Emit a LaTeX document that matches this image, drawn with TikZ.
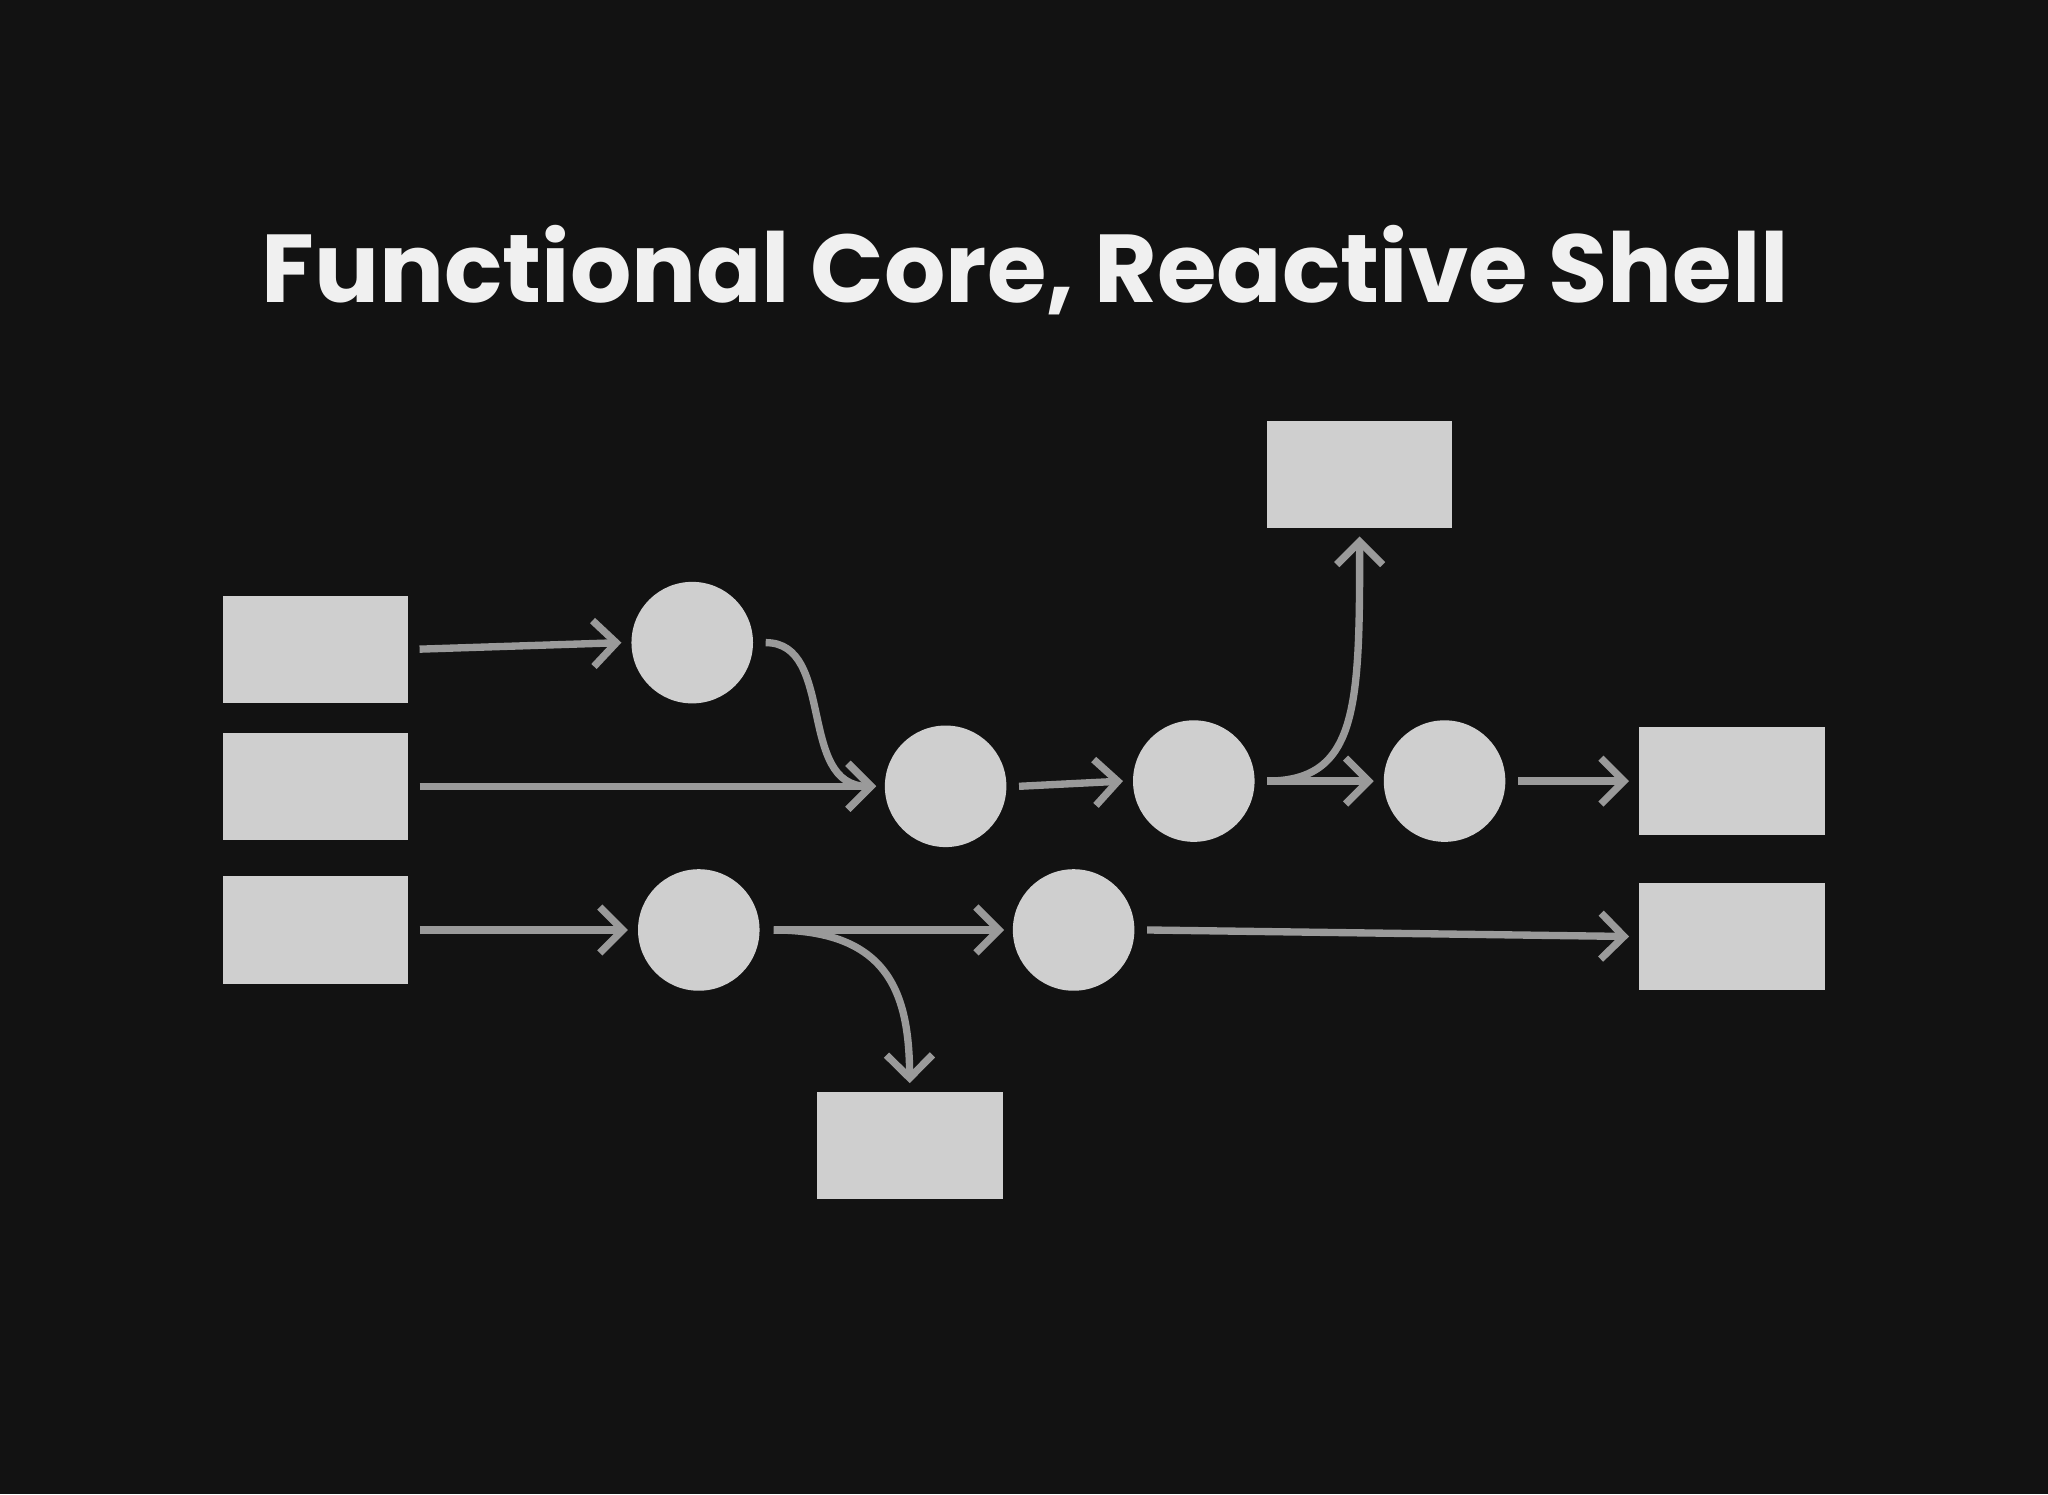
\documentclass[tikz,border=0pt]{standalone}
\usepackage{fontspec}
\setmainfont{Poppins}
\usetikzlibrary{arrows.meta,calc}
\definecolor{bg}{HTML}{121212}
\definecolor{shape}{HTML}{CFCFCF}
\definecolor{edge}{HTML}{9A9A9A}
\begin{document}
\begin{tikzpicture}[x=0.01cm,y=-0.01cm,
  boxnode/.style={fill=shape,draw=none,minimum width=1.42cm,minimum height=0.82cm,inner sep=0pt},
  dotnode/.style={fill=shape,draw=none,circle,minimum size=0.93cm,inner sep=0pt},
  conn/.style={draw=edge,line width=1.6pt,-{Straight Barb[length=5pt,width=10pt,line width=1.6pt]}}]
\fill[bg] (0,0) rectangle (1568,1144);
\useasboundingbox (0,0) rectangle (1568,1144);
\node[text=white!94!black,font=\fontsize{21}{24}\selectfont\bfseries] (title) at (785,207) {Functional Core, Reactive Shell};
\node[boxnode] (b1) at (241.5,497) {};
\node[boxnode] (b2) at (241.5,602) {};
\node[boxnode] (b3) at (241.5,712) {};
\node[boxnode] (top) at (1041,363) {};
\node[boxnode] (r1) at (1326,598) {};
\node[boxnode] (r2) at (1326,717) {};
\node[boxnode] (bot) at (696.5,877) {};
\node[dotnode] (c1) at (530,492) {};
\node[dotnode] (c2) at (724,602) {};
\node[dotnode] (c3) at (914,598) {};
\node[dotnode] (c4) at (1106,598) {};
\node[dotnode] (c5) at (535,712) {};
\node[dotnode] (c6) at (822,712) {};
\draw[conn] ($(b1.east)+(8,0)$) -- ($(c1.west)+(-7,0)$);
\draw[conn] ($(c1.east)+(9,0)$) .. controls (640,492) and (610,602) .. ($(c2.west)+(-6,0)$);
\draw[conn] ($(b2.east)+(8,0)$) -- ($(c2.west)+(-6,0)$);
\draw[conn] ($(c2.east)+(9,0)$) -- ($(c3.west)+(-7,0)$);
\draw[conn] ($(c3.east)+(9,0)$) -- ($(c4.west)+(-7,0)$);
\draw[conn] ($(c3.east)+(9,0)$) .. controls (1040,598) and (1041,540) .. ($(top.south)+(0,6)$);
\draw[conn] ($(c4.east)+(9,0)$) -- ($(r1.west)+(-7,0)$);
\draw[conn] ($(b3.east)+(8,0)$) -- ($(c5.west)+(-7,0)$);
\draw[conn] ($(c5.east)+(10,0)$) -- ($(c6.west)+(-6,0)$);
\draw[conn] ($(c5.east)+(10,0)$) .. controls (680,712) and (696,760) .. ($(bot.north)+(0,-6)$);
\draw[conn] ($(c6.east)+(9,0)$) -- ($(r2.west)+(-7,0)$);
\end{tikzpicture}
\end{document}
